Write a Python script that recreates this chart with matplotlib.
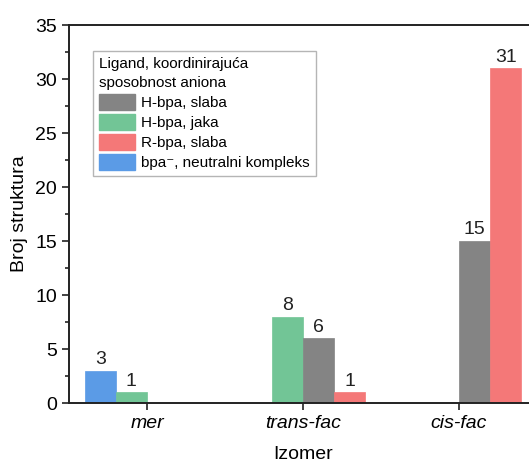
import matplotlib.pyplot as plt
import numpy as np
from matplotlib.patches import Patch
from matplotlib.ticker import MultipleLocator

plt.rcParams['font.family'] = ['Liberation Sans', 'DejaVu Sans']

# data
isomers = ["mer", "trans-fac", "cis-fac"]
series_names = ["H-bpa, slaba", "H-bpa, jaka", "R-bpa, slaba", "bpa\u207b, neutralni kompleks"]
h_bpa_slaba = [None, 6, 15]
h_bpa_jaka = [1, 8, None]
r_bpa_slaba = [None, 1, 31]
bpa_neutral = [3, None, None]

colors = {
    "gray": "#848484",
    "green": "#72c596",
    "red": "#f47878",
    "blue": "#5b9be6",
}

# bar order within a group (left to right), with its slot offset
bar_series = [
    (bpa_neutral, colors["blue"], -2),
    (h_bpa_jaka, colors["green"], -1),
    (h_bpa_slaba, colors["gray"], 0),
    (r_bpa_slaba, colors["red"], 1),
]

fig = plt.figure(figsize=(5.29, 4.65), dpi=100)
ax = fig.add_axes([69 / 529, 62 / 465, 468 / 529, 378 / 465])

width = 0.2
x = np.arange(1, len(isomers) + 1)

for values, color, slot in bar_series:
    for xi, v in zip(x, values):
        if v is None:
            continue
        left = xi + slot * width
        ax.bar(left, v, width=width, align='edge', color=color,
               edgecolor=color, linewidth=0.5)
        ax.text(left + width / 2, v + 0.25, str(v), ha='center', va='bottom',
                fontsize=14, color='#222222')

ax.set_xlim(0.5, 3.5)
ax.set_ylim(0, 35)
ax.set_xticks(x)
ax.set_xticklabels(isomers, fontstyle='italic', fontsize=14)
ax.yaxis.set_major_locator(MultipleLocator(5))
ax.yaxis.set_minor_locator(MultipleLocator(2.5))
ax.tick_params(axis='y', labelsize=14)
ax.tick_params(which='major', length=5, width=1.2, color='#222222')
ax.tick_params(which='minor', length=3, width=1.2, color='#222222')
ax.tick_params(axis='x', which='minor', bottom=False)

for sp in ax.spines.values():
    sp.set_linewidth(1.4)
    sp.set_color('#222222')

ax.set_xlabel("Izomer", fontsize=14, labelpad=10)
ax.set_ylabel("Broj struktura", fontsize=14, labelpad=5)

handles = [
    Patch(facecolor=colors["gray"], edgecolor=colors["gray"]),
    Patch(facecolor=colors["green"], edgecolor=colors["green"]),
    Patch(facecolor=colors["red"], edgecolor=colors["red"]),
    Patch(facecolor=colors["blue"], edgecolor=colors["blue"]),
]
leg = ax.legend(handles, series_names,
                title="Ligand, koordinirajuća\nsposobnost aniona",
                title_fontsize=11, fontsize=11, alignment='left',
                loc='upper left', bbox_to_anchor=(93 / 529, 1 - 51 / 465),
                bbox_transform=fig.transFigure, borderaxespad=0,
                handlelength=2.35, handleheight=1.15, labelspacing=0.28,
                handletextpad=0.4, borderpad=0.4, fancybox=False,
                framealpha=1, edgecolor='#b5b5b5')
leg.get_title().set_linespacing(1.45)
leg.get_frame().set_linewidth(1.0)

fig.savefig("out.png", dpi=100)
